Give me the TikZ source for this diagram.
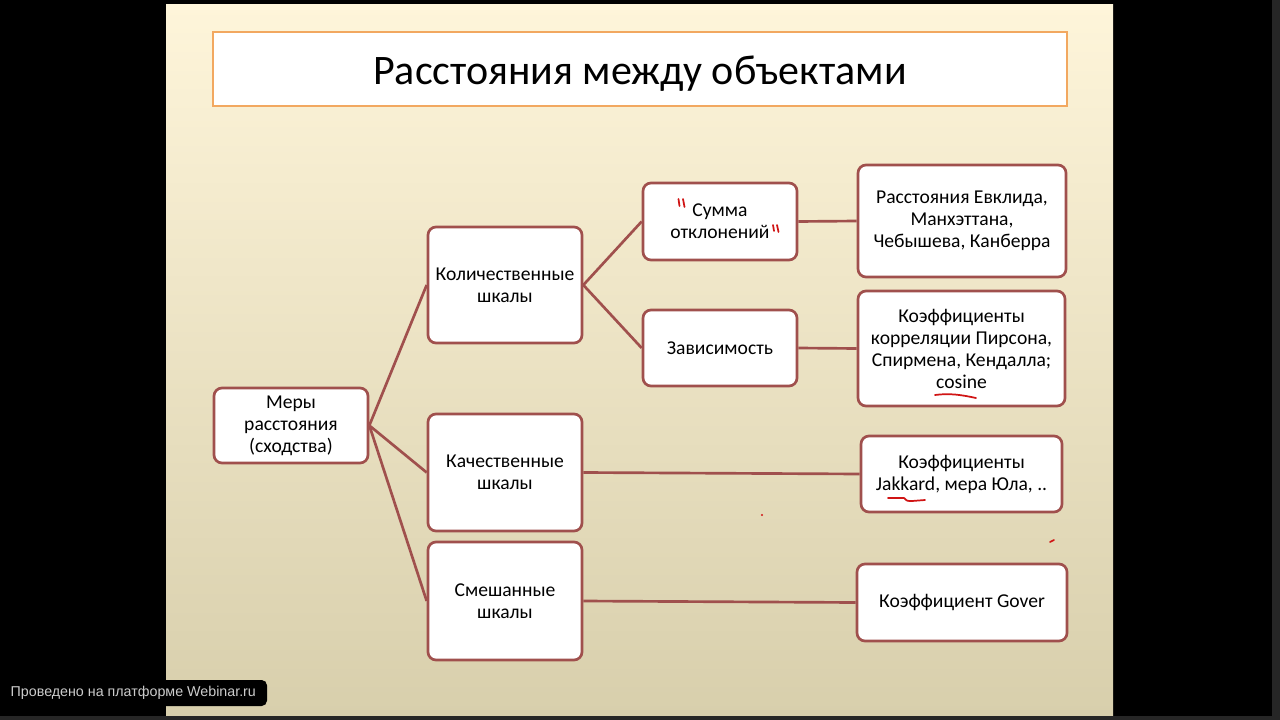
\documentclass[tikz,border=0pt]{standalone}
\usepackage{fontspec}
\setmainfont{Carlito}
\newfontfamily\labelfont{Liberation Sans}
\usetikzlibrary{positioning}
\definecolor{boxred}{RGB}{160,80,77}
\definecolor{titleorange}{RGB}{242,168,96}
\definecolor{slidetop}{RGB}{254,245,218}
\definecolor{slidemid}{RGB}{241,233,204}
\definecolor{slidebot}{RGB}{216,207,172}
\definecolor{pen}{RGB}{208,20,20}
\tikzset{
    slide/.style={x=0.75pt, y=-0.75pt, font=\fontsize{14.7}{16.5}\selectfont},
    box/.style={draw=boxred, line width=2pt, rounded corners=6pt, fill=white,
        align=center, inner sep=0pt},
    boxsize/.style 2 args={minimum width=#1*0.75pt, minimum height=#2*0.75pt},
    link/.style={draw=boxred, line width=2pt},
    penstroke/.style={draw=pen, line width=1.3pt, line cap=round},
}
\begin{document}
\begin{tikzpicture}[slide]
    % screen and slide background
    \fill[black] (0,0) rectangle (1280,720);
    \fill[black!85] (1272,0) rectangle (1280,720);
    \fill[black!85] (0,716) rectangle (1280,720);
    \shade[top color=slidetop, middle color=slidemid, bottom color=slidebot]
        (166,5) rectangle (1113,715);
    \useasboundingbox (0,0) rectangle (1280,720);

    % title
    \node[draw=titleorange, line width=1.8pt, fill=white, boxsize={854}{74},
        font=\fontsize{31.5}{36}\selectfont] (title) at (640,69) {\raisebox{-12pt}[0pt][0pt]{Расстояния между объектами}};

    % tree
    \node[box, boxsize={154}{75}]  (measures) at (291,425.5) {Меры\\расстояния\\(сходства)};
    \node[box, boxsize={154}{116}] (quant)    at (505,285)   {Количественные\\шкалы};
    \node[box, boxsize={154}{117}] (qual)     at (505,472.5) {Качественные\\шкалы};
    \node[box, boxsize={154}{118}] (mixed)    at (505,601)   {Смешанные\\шкалы};
    \node[box, boxsize={154}{77}]  (devsum)   at (720,221.5) {Сумма\\отклонений};
    \node[box, boxsize={154}{76}]  (depend)   at (720,348)   {Зависимость};
    \node[box, boxsize={208}{112}] (metrics)  at (962,221)   {Расстояния Евклида,\\Манхэттана,\\Чебышева, Канберра};
    \node[box, boxsize={207}{115}] (corr)     at (961.5,348.5) {Коэффициенты\\корреляции Пирсона,\\Спирмена, Кендалла;\\cosine};
    \node[box, boxsize={201}{76}]  (jakkard)  at (961.5,474) {Коэффициенты\\Jakkard, мера Юла, ..};
    \node[box, boxsize={210}{77}]  (gover)    at (962,602.5) {Коэффициент Gover};

    \draw[link] (measures.east) -- (quant.west);
    \draw[link] (measures.east) -- (qual.west);
    \draw[link] (measures.east) -- (mixed.west);
    \draw[link] (quant.east) -- (devsum.west);
    \draw[link] (quant.east) -- (depend.west);
    \draw[link] (devsum.east) -- (metrics.west);
    \draw[link] (depend.east) -- (corr.west);
    \draw[link] (qual.east) -- (jakkard.west);
    \draw[link] (mixed.east) -- (gover.west);

    % pen marks of the lecturer
    \draw[penstroke] (678.5,199) -- (679.5,206);
    \draw[penstroke] (683,199) -- (684.5,207);
    \draw[penstroke] (773,225) -- (774,231);
    \draw[penstroke] (777,225) -- (778.5,232);
    \draw[penstroke] (935,395) .. controls (950,393) and (962,395) .. (976,398);
    \draw[penstroke] (888,498) -- (904,498) .. controls (907,501) .. (912,501) -- (925,500);
    \fill[pen] (762,515) circle (1.2);
    \draw[penstroke] (1050,542) -- (1054,540);

    % platform label
    \fill[black, rounded corners=4pt] (0,680) rectangle (267,706);
    \node[text=black!20, font=\labelfont\fontsize{10.7}{12}\selectfont, anchor=west]
        (platform) at (6,693) {Проведено на платформе Webinar.ru};
\end{tikzpicture}
\end{document}
